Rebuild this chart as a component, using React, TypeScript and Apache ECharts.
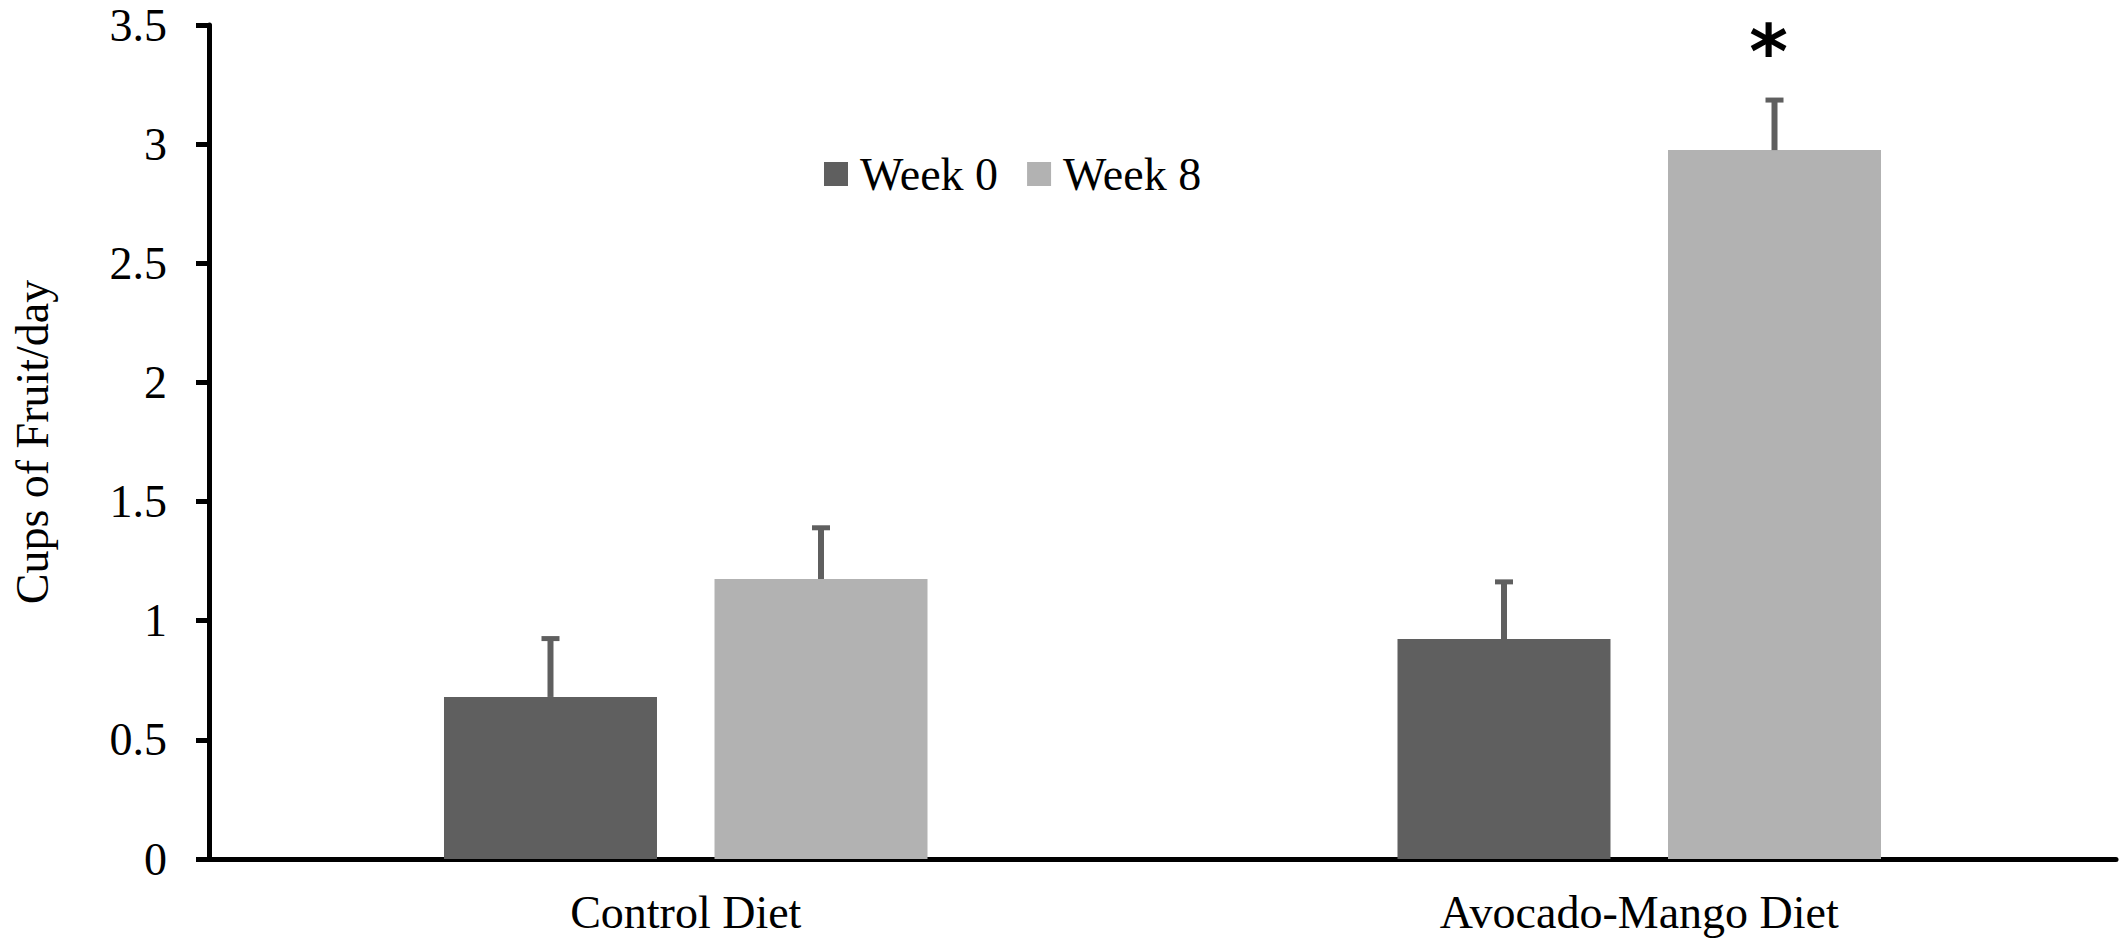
import React, { useEffect, useRef } from "react";
import * as echarts from "echarts";

const CATEGORIES = ["Control Diet", "Avocado-Mango Diet"];
const SERIES_NAMES = ["Week 0", "Week 8"];
const WEEK0 = [0.68, 0.923];
const WEEK8 = [1.175, 2.975];
const WEEK0_ERR = [0.245, 0.24];
const WEEK8_ERR = [0.215, 0.21];
const WEEK0_SIG = ["", ""];
const WEEK8_SIG = ["", "*"];
const Y_TICKS = { min: 0, max: 3.5, interval: 0.5 };

const FONT = "Liberation Serif";
const DARK = "#5f5f5f";
const LIGHT = "#b2b2b2";
const BAR_WIDTH = 213;
const BAR_GAP = 0.27;

export default function App() {
  const ref = useRef<HTMLDivElement>(null);

  useEffect(() => {
    if (!ref.current) return;
    const chart = echarts.init(ref.current, undefined, { renderer: "svg" });
    const offset = (BAR_WIDTH + BAR_WIDTH * BAR_GAP) / 2;

    const errData: number[][] = [];
    const errSig: string[] = [];
    CATEGORIES.forEach((_, i) => {
      errData.push([i, WEEK0[i], WEEK0_ERR[i], -1]);
      errSig.push(WEEK0_SIG[i]);
      errData.push([i, WEEK8[i], WEEK8_ERR[i], 1]);
      errSig.push(WEEK8_SIG[i]);
    });

    const option: any = {
      animation: false,
      backgroundColor: "#fff",
      textStyle: { fontFamily: FONT, color: "#000" },
      grid: { left: 209, right: 12, top: 25, bottom: 91, containLabel: false },
      legend: {
        data: SERIES_NAMES,
        left: 819,
        top: 146,
        icon: "rect",
        itemWidth: 24,
        itemHeight: 24,
        itemGap: 29,
        formatter: (name: string) => `{t|${name}}`,
        textStyle: {
          fontFamily: FONT,
          fontSize: 46,
          color: "#000",
          rich: {
            t: {
              fontFamily: FONT,
              fontSize: 46,
              color: "#000",
              padding: [0, 0, 0, 7],
            },
          },
        },
      },
      xAxis: {
        type: "category",
        data: CATEGORIES,
        axisLine: { show: true, lineStyle: { color: "#000", width: 5 } },
        axisTick: { show: false },
        axisLabel: { fontFamily: FONT, fontSize: 46, color: "#000", margin: 30 },
        splitLine: { show: false },
      },
      yAxis: {
        type: "value",
        min: Y_TICKS.min,
        max: Y_TICKS.max,
        interval: Y_TICKS.interval,
        name: "Cups of Fruit/day",
        nameLocation: "middle",
        nameGap: 154,
        nameTextStyle: { fontFamily: FONT, fontSize: 46, color: "#000" },
        axisLine: { show: true, lineStyle: { color: "#000", width: 5 } },
        axisTick: { show: true, length: 13, lineStyle: { color: "#000", width: 5 } },
        axisLabel: { fontFamily: FONT, fontSize: 46, color: "#000", margin: 42 },
        splitLine: { show: false },
      },
      series: [
        {
          name: SERIES_NAMES[0],
          type: "bar",
          data: WEEK0,
          barWidth: BAR_WIDTH,
          barGap: `${BAR_GAP * 100}%`,
          itemStyle: { color: DARK },
        },
        {
          name: SERIES_NAMES[1],
          type: "bar",
          data: WEEK8,
          barWidth: BAR_WIDTH,
          barGap: `${BAR_GAP * 100}%`,
          itemStyle: { color: LIGHT },
        },
        {
          name: "errors",
          type: "custom",
          z: 5,
          data: errData,
          renderItem: (params: any, api: any) => {
            const x = api.value(0);
            const v = api.value(1);
            const e = api.value(2);
            const side = api.value(3);
            const base = api.coord([x, v]);
            const top = api.coord([x, v + e]);
            const cx = base[0] + side * offset;
            const children: any[] = [
              {
                type: "line",
                shape: { x1: cx, y1: base[1], x2: cx, y2: top[1] },
                style: { stroke: DARK, lineWidth: 6 },
              },
              {
                type: "line",
                shape: { x1: cx - 9, y1: top[1], x2: cx + 9, y2: top[1] },
                style: { stroke: DARK, lineWidth: 5 },
              },
            ];
            const sig = errSig[params.dataIndex];
            if (sig) {
              children.push({
                type: "text",
                x: cx - 6,
                y: top[1] - 48,
                style: {
                  text: sig,
                  fontFamily: "DejaVu Sans",
                  fontWeight: "bold",
                  fontSize: 74,
                  fill: "#000",
                  align: "center",
                  verticalAlign: "middle",
                },
              });
            }
            return { type: "group", children };
          },
        },
      ],
    };
    chart.setOption(option);
    return () => chart.dispose();
  }, []);

  return (
    <div
      ref={ref}
      style={{ position: "fixed", left: 0, top: 0, width: 2128, height: 950, background: "#fff" }}
    />
  );
}
